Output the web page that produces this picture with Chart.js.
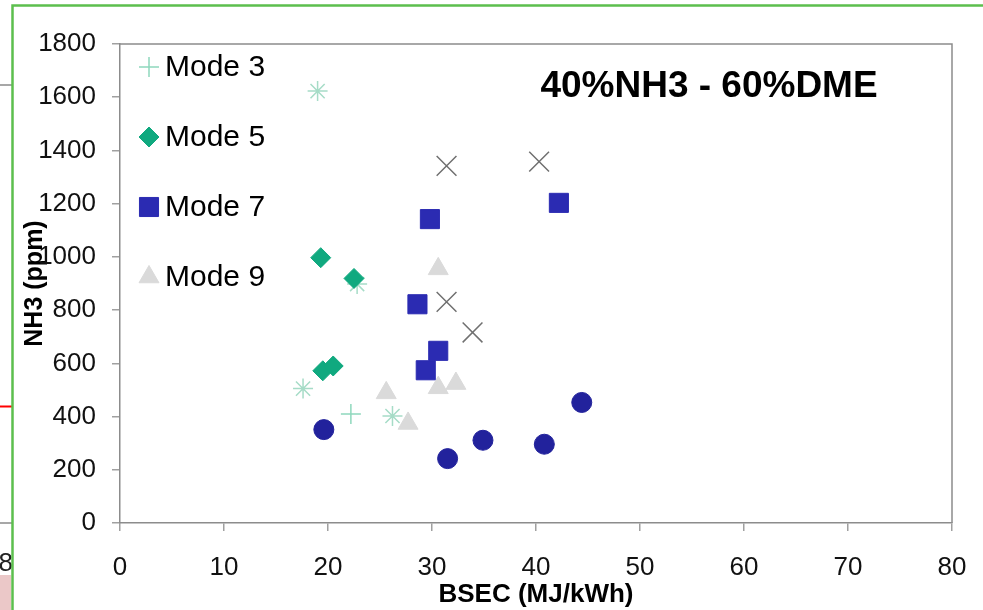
<!DOCTYPE html>
<html>
<head>
<meta charset="utf-8">
<script src="https://cdn.jsdelivr.net/npm/chart.js"></script>
<style>
html, body { margin: 0; padding: 0; background: #fff; }
</style>
</head>
<body>
<canvas id="myChart" width="983" height="610"></canvas>
<script>
// values
var mode3X = [22.2];
var mode3Y = [410];
var mode5X = [19.3, 22.5, 19.5, 20.5];
var mode5Y = [997, 919, 572, 590];
var mode7X = [29.8, 42.2, 28.6, 30.6, 29.4];
var mode7Y = [1142, 1203, 822, 647, 574];
var mode9X = [30.6, 25.6, 30.6, 32.3, 27.7];
var mode9Y = [955, 489, 508, 524, 374];
// series without a legend entry
var starX = [19.0, 22.8, 17.6, 26.2];
var starY = [1623, 898, 505, 402];
var crossX = [31.4, 40.3, 31.4, 33.9];
var crossY = [1342, 1358, 831, 716];
var circleX = [19.6, 31.5, 34.9, 40.8, 44.4];
var circleY = [351, 242, 311, 296, 453];

var xTicks = [0, 10, 20, 30, 40, 50, 60, 70, 80];
var yTicks = [0, 200, 400, 600, 800, 1000, 1200, 1400, 1600, 1800];
var legendNames = ['Mode 3', 'Mode 5', 'Mode 7', 'Mode 9'];

function pts(xs, ys) {
  return xs.map(function (x, i) { return { x: x, y: ys[i] }; });
}

var FONT = '"Liberation Sans", Arial, sans-serif';

// outer frame and bits of the screenshot behind the chart
var framePlugin = {
  id: 'frame',
  beforeDraw: function (chart) {
    var c = chart.ctx;
    c.save();
    c.fillStyle = '#fff';
    c.fillRect(0, 0, chart.width, chart.height);
    c.fillStyle = '#ebc8c8';
    c.fillRect(0, 575, 11, 35);
    c.lineWidth = 1.5;
    c.strokeStyle = '#8a8a8a';
    c.beginPath();
    c.moveTo(0, 85); c.lineTo(12, 85);
    c.moveTo(0, 523); c.lineTo(12, 523);
    c.stroke();
    c.strokeStyle = '#ff0000';
    c.lineWidth = 2;
    c.beginPath();
    c.moveTo(0, 406.5); c.lineTo(12, 406.5);
    c.stroke();
    c.fillStyle = '#222';
    c.font = '26px ' + FONT;
    c.textAlign = 'right';
    c.textBaseline = 'middle';
    c.fillText('8', 13, 564);
    c.strokeStyle = '#5cbf4e';
    c.lineWidth = 2.5;
    c.beginPath();
    c.moveTo(12.5, 610); c.lineTo(12.5, 5.5); c.lineTo(983, 5.5);
    c.stroke();
    c.restore();
  },
  afterDraw: function (chart) {
    var a = chart.chartArea;
    var c = chart.ctx;
    c.save();
    c.strokeStyle = '#8c8c8c';
    c.lineWidth = 1.5;
    c.beginPath();
    c.moveTo(a.left, a.top); c.lineTo(a.right, a.top); c.lineTo(a.right, a.bottom);
    c.stroke();

    // title inside the plot
    c.fillStyle = '#000';
    c.font = 'bold 37px ' + FONT;
    c.textAlign = 'center';
    c.textBaseline = 'alphabetic';
    c.fillText('40%NH3 - 60%DME', 709, 97);

    // legend, top left of the plot
    c.font = '30px ' + FONT;
    c.textAlign = 'left';
    c.textBaseline = 'middle';
    for (var i = 0; i < legendNames.length; i++) {
      var ds = chart.data.datasets[i];
      var y = a.top + 23 + i * 70;
      c.fillStyle = ds.backgroundColor;
      c.strokeStyle = ds.borderColor;
      c.lineWidth = ds.borderWidth;
      if (Chart.helpers && Chart.helpers.drawPoint) {
        Chart.helpers.drawPoint(c, {
          pointStyle: ds.pointStyle,
          radius: ds.legendRadius,
          rotation: 0,
          borderWidth: ds.borderWidth
        }, 149, y);
      }
      c.fillStyle = '#000';
      c.fillText(legendNames[i], 165, y + 1);
    }
    c.restore();
  }
};

function plain(v) { return String(v); }

new Chart(document.getElementById('myChart'), {
  type: 'scatter',
  data: {
    datasets: [
      {
        label: legendNames[0], data: pts(mode3X, mode3Y), pointStyle: 'cross',
        pointRadius: 10, legendRadius: 10, borderWidth: 1.5,
        borderColor: '#8fd8bd', backgroundColor: '#8fd8bd'
      },
      {
        label: legendNames[1], data: pts(mode5X, mode5Y), pointStyle: 'rectRot',
        pointRadius: 10, legendRadius: 10, borderWidth: 1,
        borderColor: '#10a97f', backgroundColor: '#10a97f'
      },
      {
        label: legendNames[2], data: pts(mode7X, mode7Y), pointStyle: 'rect',
        pointRadius: 13.5, legendRadius: 13.5, borderWidth: 1,
        borderColor: '#2b2bb2', backgroundColor: '#2b2bb2'
      },
      {
        label: legendNames[3], data: pts(mode9X, mode9Y), pointStyle: 'triangle',
        pointRadius: 11.5, legendRadius: 11.5, borderWidth: 1,
        borderColor: '#dadada', backgroundColor: '#dadada'
      },
      {
        label: 'star', data: pts(starX, starY), pointStyle: 'star',
        pointRadius: 10, borderWidth: 1.5,
        borderColor: '#a6dcc7', backgroundColor: '#a6dcc7'
      },
      {
        label: 'x', data: pts(crossX, crossY), pointStyle: 'crossRot',
        pointRadius: 14, borderWidth: 1.5,
        borderColor: '#707070', backgroundColor: '#707070'
      },
      {
        label: 'circle', data: pts(circleX, circleY), pointStyle: 'circle',
        pointRadius: 10, borderWidth: 1,
        borderColor: '#22229c', backgroundColor: '#22229c'
      }
    ]
  },
  options: {
    responsive: false,
    animation: false,
    events: [],
    layout: { padding: { left: 0, right: 31, top: 44, bottom: 0 } },
    plugins: {
      legend: { display: false },
      tooltip: { enabled: false }
    },
    scales: {
      x: {
        type: 'linear', min: 0, max: 80,
        afterFit: function (s) { s.height = 87; s.paddingLeft = 0; s.paddingRight = 0; },
        afterBuildTicks: function (s) { s.ticks = xTicks.map(function (v) { return { value: v }; }); },
        border: { color: '#8c8c8c', width: 1.5 },
        grid: { drawOnChartArea: false, color: '#a0a0a0', lineWidth: 1.5, tickLength: 8 },
        ticks: { color: '#111', padding: 21, callback: plain, font: { family: FONT, size: 26 } },
        title: {
          display: true, text: 'BSEC (MJ/kWh)', color: '#000',
          padding: { top: 0, bottom: 0 },
          font: { family: FONT, size: 26, weight: 'bold' }
        }
      },
      y: {
        type: 'linear', min: 0, max: 1800,
        afterFit: function (s) { s.width = 120; },
        afterBuildTicks: function (s) { s.ticks = yTicks.map(function (v) { return { value: v }; }); },
        border: { color: '#8c8c8c', width: 1.5 },
        grid: { drawOnChartArea: false, color: '#a0a0a0', lineWidth: 1.5, tickLength: 8 },
        ticks: { color: '#111', padding: 16, callback: plain, font: { family: FONT, size: 26 } },
        title: {
          display: true, text: 'NH3 (ppm)', color: '#000',
          padding: { top: 20, bottom: 0 },
          font: { family: FONT, size: 25, weight: 'bold' }
        }
      }
    }
  },
  plugins: [framePlugin]
});
</script>
</body>
</html>
